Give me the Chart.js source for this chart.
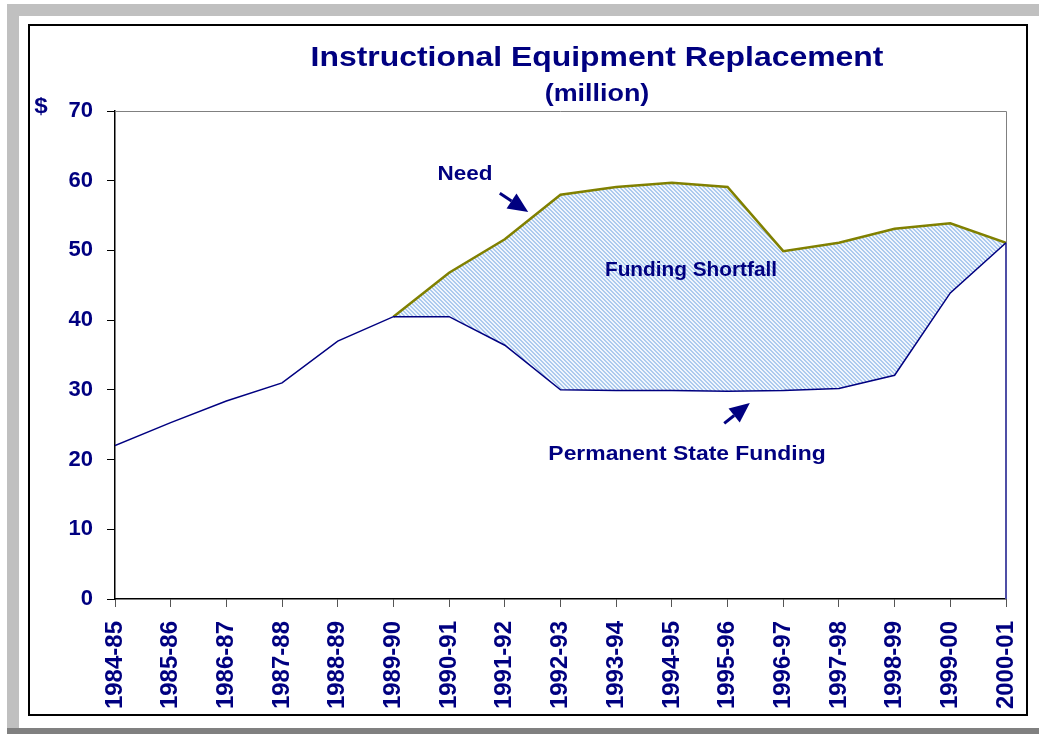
<!DOCTYPE html>
<html>
    <head>
        <meta charset="utf-8">
        <title>Instructional Equipment Replacement</title>
        <script src="https://cdn.jsdelivr.net/npm/chart.js"></script>
        <style>
            body {
                margin: 0;
                width: 1039px;
                height: 734px;
                background: #fff;
                position: relative;
                overflow: hidden;
                font-family: "Liberation Sans", Arial, sans-serif;
            }
            .band { position: absolute; background: #c0c0c0; }
            .frame {
                position: absolute;
                left: 28px; top: 24px;
                width: 1000px; height: 692px;
                box-sizing: border-box;
                border: 2px solid #000;
            }
            .txt {
                position: absolute;
                font-weight: bold;
                color: #000080;
                line-height: 1;
                white-space: nowrap;
                z-index: 2;
            }
            #chart { position: absolute; left: 0; top: 0; z-index: 1; }
        </style>
    </head>
    <body>
        <div class="band" style="left:7px;top:4px;width:1032px;height:12px"></div>
        <div class="band" style="left:7px;top:4px;width:12px;height:724px"></div>
        <div class="band" style="left:7px;top:728px;width:1032px;height:6px;background:#808080"></div>
        <div class="frame"></div>

        <canvas id="chart" width="1039" height="734"></canvas>

        <script>
            // данные
            const categories = ['1984-85', '1985-86', '1986-87', '1987-88', '1988-89', '1989-90',
                '1990-91', '1991-92', '1992-93', '1993-94', '1994-95', '1995-96', '1996-97',
                '1997-98', '1998-99', '1999-00', '2000-01'];
            const stateFunding = [22.0, 25.3, 28.4, 31.0, 37.0, 40.5, 40.5, 36.4, 30.0, 29.9,
                29.9, 29.8, 29.9, 30.2, 32.1, 43.9, 51.1];
            const need = [null, null, null, null, null, 40.5, 46.8, 51.6, 58.0, 59.1,
                59.7, 59.1, 49.9, 51.1, 53.1, 53.9, 51.1];
            const yTicks = [0, 10, 20, 30, 40, 50, 60, 70];

            const NAVY = '#000080';

            // текстовые подписи: центр по x, базовая линия, размер, растяжение
            function addText(str, cx, baseline, size, sx) {
                const d = document.createElement('div');
                d.className = 'txt';
                d.textContent = str;
                d.style.fontSize = size + 'px';
                d.style.left = cx + 'px';
                d.style.top = (baseline - 0.8465 * size) + 'px';
                d.style.transform = 'translateX(-50%) scaleX(' + sx + ')';
                document.body.appendChild(d);
            }
            addText('Instructional Equipment Replacement', 597, 66, 28.5, 1.12);
            addText('(million)', 597, 101, 24, 1.12);
            addText('$', 41, 114, 22, 1.1);
            addText('Need', 465, 180, 21, 1.07);
            addText('Funding Shortfall', 691, 276, 20, 1.04);
            addText('Permanent State Funding', 687, 460, 21, 1.09);

            // штриховка области недофинансирования
            function makePattern() {
                const c = document.createElement('canvas');
                c.width = 4; c.height = 4;
                const g = c.getContext('2d');
                for (let y = 0; y < 4; y++) {
                    for (let x = 0; x < 4; x++) {
                        g.fillStyle = ((x - y + 8) % 4 < 2) ? '#accaee' : '#f0f6fd';
                        g.fillRect(x, y, 1, 1);
                    }
                }
                return g.createPattern(c, 'repeat');
            }

            function toPoints(arr) {
                const pts = [];
                arr.forEach((v, i) => { if (v !== null) pts.push({x: i, y: v}); });
                return pts;
            }

            const lastIdx = categories.length - 1;

            // стрелки-указатели (в единицах осей)
            const arrows = [
                {from: [6.91, 58.2], to: [7.42, 55.5]},
                {from: [10.94, 25.2], to: [11.40, 28.1]}
            ];

            const framePlugin = {
                id: 'frame',
                beforeDatasetsDraw(chart) {
                    const a = chart.chartArea;
                    const ctx = chart.ctx;
                    ctx.save();
                    ctx.strokeStyle = '#808080';
                    ctx.lineWidth = 1;
                    ctx.beginPath();
                    ctx.moveTo(a.left, a.top + 0.5);
                    ctx.lineTo(a.right + 0.5, a.top + 0.5);
                    ctx.lineTo(a.right + 0.5, a.bottom);
                    ctx.stroke();
                    ctx.restore();
                },
                afterDatasetsDraw(chart) {
                    const xs = chart.scales.x, ys = chart.scales.y;
                    const ctx = chart.ctx;
                    ctx.save();
                    ctx.fillStyle = NAVY;
                    ctx.strokeStyle = NAVY;
                    arrows.forEach(ar => {
                        const x0 = xs.getPixelForValue(ar.from[0]), y0 = ys.getPixelForValue(ar.from[1]);
                        const x1 = xs.getPixelForValue(ar.to[0]), y1 = ys.getPixelForValue(ar.to[1]);
                        const ang = Math.atan2(y1 - y0, x1 - x0);
                        const len = 20, hw = 9;
                        const bx = x1 - len * Math.cos(ang), by = y1 - len * Math.sin(ang);
                        ctx.lineWidth = 3;
                        ctx.beginPath();
                        ctx.moveTo(x0, y0);
                        ctx.lineTo(bx, by);
                        ctx.stroke();
                        ctx.beginPath();
                        ctx.moveTo(x1, y1);
                        ctx.lineTo(bx + hw * Math.sin(ang), by - hw * Math.cos(ang));
                        ctx.lineTo(bx - hw * Math.sin(ang), by + hw * Math.cos(ang));
                        ctx.closePath();
                        ctx.fill();
                    });
                    ctx.restore();
                }
            };

            const tickFontY = {family: '"Liberation Sans", Arial, sans-serif', size: 22, weight: 'bold'};
            const tickFontX = {family: '"Liberation Sans", Arial, sans-serif', size: 24, weight: 'bold'};

            new Chart(document.getElementById('chart').getContext('2d'), {
                type: 'line',
                data: {
                    datasets: [
                        {
                            label: 'Permanent State Funding',
                            data: toPoints(stateFunding),
                            borderColor: NAVY,
                            borderWidth: 1.5,
                            pointRadius: 0,
                            tension: 0,
                            fill: false
                        },
                        {
                            label: 'Need',
                            data: toPoints(need),
                            borderColor: '#808000',
                            borderWidth: 2.5,
                            pointRadius: 0,
                            tension: 0,
                            backgroundColor: makePattern(),
                            fill: '-1'
                        },
                        {
                            label: 'edge',
                            data: [{x: lastIdx, y: stateFunding[lastIdx]}, {x: lastIdx, y: 0}],
                            borderColor: '#4f4fa6',
                            borderWidth: 2,
                            pointRadius: 0,
                            clip: false,
                            fill: false
                        }
                    ]
                },
                options: {
                    responsive: false,
                    animation: false,
                    devicePixelRatio: 1,
                    layout: {padding: {top: 111, right: 33, left: 0, bottom: 0}},
                    plugins: {
                        legend: {display: false},
                        title: {display: false},
                        tooltip: {enabled: false}
                    },
                    scales: {
                        x: {
                            type: 'linear',
                            min: 0,
                            max: lastIdx,
                            afterFit(scale) {
                                scale.height = 135;
                                scale.paddingLeft = 0;
                                scale.paddingRight = 0;
                            },
                            afterBuildTicks(scale) {
                                scale.ticks = categories.map((c, i) => ({value: i}));
                            },
                            grid: {
                                drawOnChartArea: false,
                                tickLength: 8,
                                color: '#555'
                            },
                            border: {color: '#000', width: 1.5},
                            ticks: {
                                autoSkip: false,
                                minRotation: 90,
                                maxRotation: 90,
                                padding: 14,
                                color: NAVY,
                                font: tickFontX,
                                callback: (v) => categories[v]
                            }
                        },
                        y: {
                            min: 0,
                            max: 70,
                            afterFit(scale) {
                                scale.width = 115;
                                scale.paddingTop = 0;
                                scale.paddingBottom = 0;
                            },
                            afterBuildTicks(scale) {
                                scale.ticks = yTicks.map(v => ({value: v}));
                            },
                            grid: {
                                drawOnChartArea: false,
                                tickLength: 8,
                                color: '#000'
                            },
                            border: {color: '#000', width: 1.5},
                            ticks: {
                                padding: 14,
                                color: NAVY,
                                font: tickFontY
                            }
                        }
                    }
                },
                plugins: [framePlugin]
            });
        </script>
    </body>
</html>
